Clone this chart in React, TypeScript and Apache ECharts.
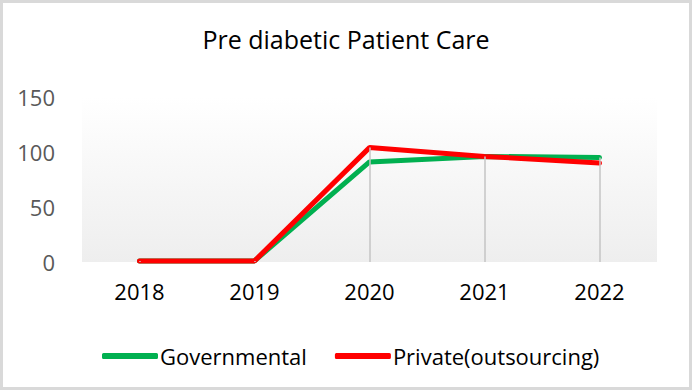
import React, { useEffect, useRef } from "react";
import * as echarts from "echarts";

const years = ["2018", "2019", "2020", "2021", "2022"];
const governmental = [1, 1, 91, 96, 95];
const privateCare = [1, 1, 104, 96, 90];
const yTicks = [0, 50, 100, 150];

const FONT = "'Open Sans', sans-serif";

export default function App() {
  const ref = useRef<HTMLDivElement>(null);

  useEffect(() => {
    if (!ref.current) return;
    const chart = echarts.init(ref.current, undefined, { renderer: "svg" });
    const dropTops = years.map((_, i) => Math.max(governmental[i], privateCare[i]));
    chart.setOption({
      animation: false,
      backgroundColor: "#ffffff",
      title: {
        text: "Pre diabetic Patient Care",
        left: "center",
        top: 18,
        textStyle: { fontFamily: FONT, fontSize: 25, fontWeight: "normal", color: "#000000" },
      },
      grid: {
        left: 79,
        right: 32,
        top: 94,
        bottom: 125,
        show: true,
        borderWidth: 0,
        backgroundColor: new echarts.graphic.LinearGradient(0, 0, 0, 1, [
          { offset: 0, color: "#ffffff" },
          { offset: 1, color: "#eeeeee" },
        ]),
      },
      legend: {
        left: 94,
        top: 337,
        itemWidth: 56,
        itemHeight: 6,
        itemGap: 28,
        icon: "roundRect",
        textStyle: { fontFamily: FONT, fontSize: 22, color: "#000000", padding: [0, 0, 0, -3] },
        data: ["Governmental", "Private(outsourcing)"],
      },
      xAxis: {
        type: "category",
        data: years,
        boundaryGap: true,
        axisLine: { show: false },
        axisTick: { show: false },
        axisLabel: { margin: 18, fontFamily: FONT, fontSize: 22, color: "#000000" },
      },
      yAxis: {
        type: "value",
        min: yTicks[0],
        max: yTicks[yTicks.length - 1],
        interval: 50,
        splitLine: { show: false },
        axisLine: { show: false },
        axisTick: { show: false },
        axisLabel: { margin: 27, fontFamily: FONT, fontSize: 22, color: "#595959" },
      },
      series: [
        {
          name: "drop",
          type: "line",
          data: dropTops,
          symbol: "none",
          lineStyle: { opacity: 0 },
          z: 1,
          silent: true,
          markLine: {
            silent: true,
            symbol: "none",
            label: { show: false },
            lineStyle: { color: "#c4c4c4", width: 1.5, type: "solid" },
            data: dropTops.map((v, i) => [
              { coord: [i, 0] },
              { coord: [i, v] },
            ]),
          },
        },
        {
          name: "Governmental",
          type: "line",
          data: governmental,
          symbol: "none",
          color: "#00b050",
          lineStyle: { width: 5, color: "#00b050", cap: "round" },
          z: 3,
        },
        {
          name: "Private(outsourcing)",
          type: "line",
          data: privateCare,
          symbol: "none",
          color: "#ff0000",
          lineStyle: { width: 5, color: "#ff0000", cap: "round" },
          z: 4,
        },
      ],
    });
    return () => chart.dispose();
  }, []);

  return (
    <div
      ref={ref}
      style={{
        position: "fixed",
        left: 0,
        top: 0,
        width: 692,
        height: 390,
        boxSizing: "border-box",
        border: "3px solid #d9d9d9",
        background: "#ffffff",
      }}
    />
  );
}
